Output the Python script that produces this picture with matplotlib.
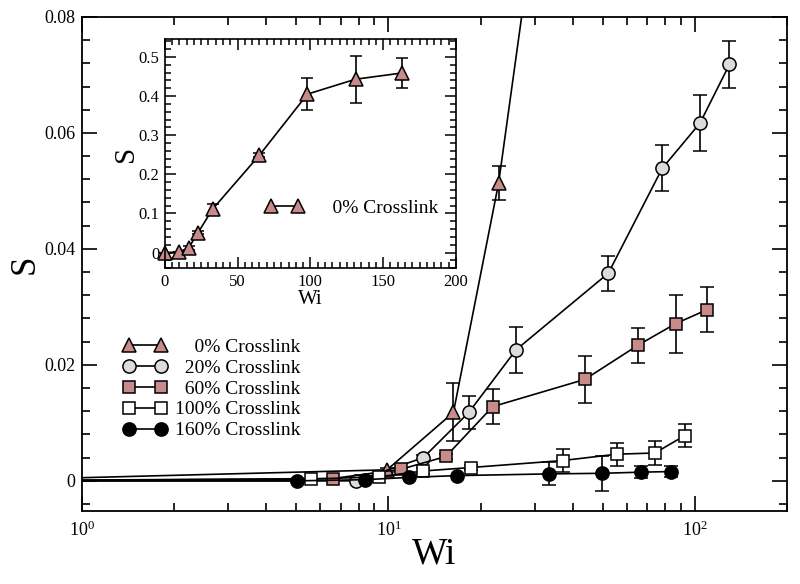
"""Order parameter S against Weissenberg number Wi for several crosslink densities."""

import matplotlib

matplotlib.use("Agg")
import matplotlib.pyplot as plt
from matplotlib.lines import Line2D
from matplotlib.ticker import LogLocator, MultipleLocator, NullFormatter

plt.rcParams["font.family"] = ["Liberation Serif", "DejaVu Serif"]
plt.rcParams["mathtext.fontset"] = "stix"

# --- Data --------------------------------------------------------------------
# The first point of every series sits just off the left edge of the log axis.
WI_0 = [0.4, 9.9, 16.3, 22.9, 32.8, 65, 98, 131, 163]
S_0 = [0, 0.0019, 0.0118, 0.0514, 0.111, 0.249, 0.405, 0.443, 0.459]
ERR_0 = [0, 0.0004, 0.005, 0.0029, 0.012, 0.005, 0.04, 0.06, 0.039]

WI_20 = [0.4, 7.85, 13.0, 18.3, 26.1, 52.2, 78.3, 104, 129.7]
S_20 = [0, 0.0, 0.004, 0.0118, 0.0226, 0.0358, 0.0539, 0.0617, 0.0718]
ERR_20 = [0, 0, 0.0004, 0.0029, 0.004, 0.003, 0.004, 0.0049, 0.004]

WI_60 = [0.4, 6.59, 11.0, 15.4, 21.9, 43.8, 65.3, 86.5, 109.4]
S_60 = [0, 0.0004, 0.002, 0.0042, 0.0128, 0.0175, 0.0234, 0.0271, 0.0295]
ERR_60 = [0, 0, 0.0003, 0.0004, 0.003, 0.004, 0.003, 0.005, 0.0039]

WI_100 = [0.4, 5.6, 9.3, 13.0, 18.6, 37.0, 55.7, 74.1, 92.7]
S_100 = [0, 0.0003, 0.0007, 0.0017, 0.0023, 0.0035, 0.0046, 0.0048, 0.0078]
ERR_100 = [0, 0, 0, 0.0005, 0.0005, 0.002, 0.002, 0.002, 0.002]

WI_160 = [0.4, 5.03, 8.37, 11.7, 16.7, 33.5, 49.9, 66.8, 83.5]
S_160 = [0, 0.0, 0.0002, 0.0006, 0.0009, 0.0012, 0.0013, 0.0015, 0.0016]
ERR_160 = [0, 0, 0, 0, 0, 0.002, 0.003, 0.001, 0.001]

LABELS = [
    "\u2007\u20070% Crosslink",
    "\u200720% Crosslink",
    "\u200760% Crosslink",
    "100% Crosslink",
    "160% Crosslink",
]

PINK = "#c98a8a"
GREY = "#dcdcdc"

# (marker, face colour, marker size)
STYLES = [
    ("^", PINK, 10),
    ("o", GREY, 9.5),
    ("s", PINK, 8),
    ("s", "white", 8),
    ("o", "black", 9.5),
]

SERIES = [
    (WI_0, S_0, ERR_0),
    (WI_20, S_20, ERR_20),
    (WI_60, S_60, ERR_60),
    (WI_100, S_100, ERR_100),
    (WI_160, S_160, ERR_160),
]


def draw_series(ax, wi, s, err, style, cap=5, clip=True):
    marker, face, size = style
    ax.errorbar(
        wi, s, yerr=err, fmt="-", color="black", lw=1.2,
        marker=marker, mfc=face, mec="black", mew=1.1, ms=size,
        ecolor="black", elinewidth=1.2, capsize=cap, capthick=1.2,
        clip_on=clip,
    )


def legend_handle(style):
    marker, face, size = style
    return Line2D([], [], color="black", lw=1.2, marker=marker,
                  mfc=face, mec="black", mew=1.1, ms=size)


def style_ticks(ax, major, minor, width):
    ax.tick_params(which="both", direction="in", top=True, right=True, width=width)
    ax.tick_params(which="major", length=major)
    ax.tick_params(which="minor", length=minor)


fig = plt.figure(figsize=(8, 5.84), dpi=100)
ax = fig.add_axes([0.1025, 0.125, 0.8813, 0.846])

for (wi, s, err), style in zip(SERIES, STYLES):
    draw_series(ax, wi, s, err, style)

ax.set_xscale("log")
ax.set_xlim(1, 200)
ax.set_ylim(-0.0052, 0.08)
ax.xaxis.set_major_locator(LogLocator(base=10, numticks=12))
ax.xaxis.set_minor_locator(LogLocator(base=10, subs=[2, 3, 4, 5, 6, 7, 8, 9], numticks=12))
ax.xaxis.set_minor_formatter(NullFormatter())
ax.yaxis.set_minor_locator(MultipleLocator(0.004))
ax.set_yticks([0, 0.02, 0.04, 0.06, 0.08])
ax.set_yticklabels(["0", "0.02", "0.04", "0.06", "0.08"])
style_ticks(ax, 11, 6, 1.2)
ax.tick_params(labelsize=13, pad=5)
ax.tick_params(axis="x", pad=7)
for sp in ax.spines.values():
    sp.set_linewidth(1.3)
ax.set_xlabel("Wi", fontsize=27, labelpad=-2)
ax.set_ylabel("S", fontsize=25)
ax.yaxis.set_label_coords(-0.0574, 0.5)

ax.legend(
    [legend_handle(st) for st in STYLES], LABELS,
    loc="upper left", bbox_to_anchor=(0.059, 0.35), frameon=False,
    fontsize=14, numpoints=2, handlelength=2.2, handletextpad=0.45,
    labelspacing=0.17, borderpad=0, borderaxespad=0,
)

# --- Inset: 0% crosslink on linear axes --------------------------------------
inset = fig.add_axes([0.206, 0.5406, 0.364, 0.3921])
draw_series(inset, WI_0, S_0, ERR_0, STYLES[0], cap=4, clip=False)
inset.set_xlim(0, 200)
inset.set_ylim(-0.04, 0.545)
inset.xaxis.set_major_locator(MultipleLocator(50))
inset.xaxis.set_minor_locator(MultipleLocator(5))
inset.yaxis.set_minor_locator(MultipleLocator(0.02))
inset.set_yticks([0, 0.1, 0.2, 0.3, 0.4, 0.5])
inset.set_yticklabels(["0", "0.1", "0.2", "0.3", "0.4", "0.5"])
style_ticks(inset, 8, 4, 1.1)
inset.tick_params(labelsize=12, pad=4)
for sp in inset.spines.values():
    sp.set_linewidth(1.2)
inset.set_xlabel("Wi", fontsize=15, labelpad=0)
inset.set_ylabel("S", fontsize=21)
inset.yaxis.set_label_coords(-0.089, 0.5)
inset.legend(
    [legend_handle(STYLES[0])], [LABELS[0]],
    loc="center left", bbox_to_anchor=(0.345, 0.263), frameon=False,
    fontsize=14, numpoints=2, handlelength=2.0, handletextpad=0.45,
    borderpad=0, borderaxespad=0,
)

fig.savefig("out.png", dpi=100)
